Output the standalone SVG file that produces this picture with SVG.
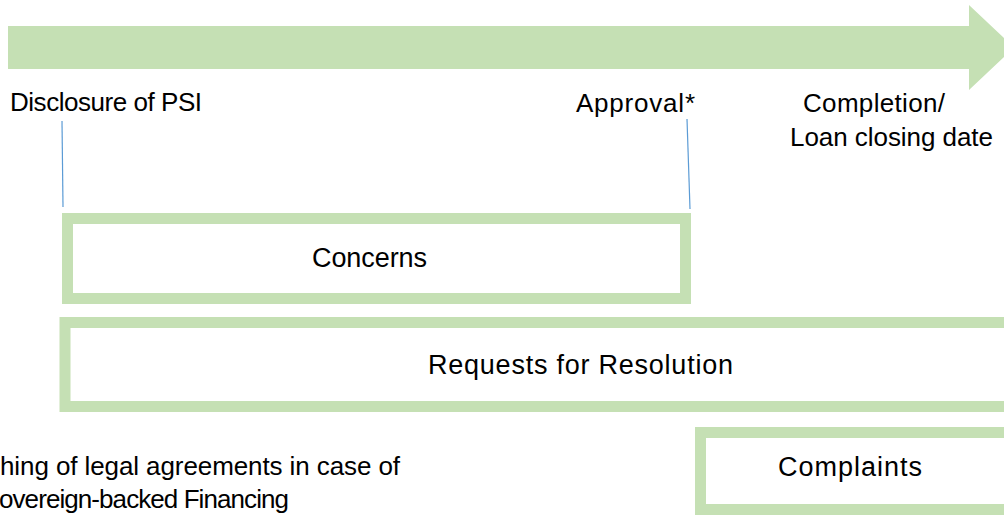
<svg xmlns="http://www.w3.org/2000/svg" width="1004" height="515" viewBox="0 0 1004 515">
  <style>
    .lbl { font-family: "Liberation Sans", Arial, sans-serif; font-size: 26px; fill: #000000; }
    .big { font-size: 27px; }
    .box { fill: #FFFFFF; stroke: #C5E0B4; stroke-width: 11; }
    .tick { stroke: #5B9BD5; stroke-width: 1.2; fill: none; }
  </style>
  <rect width="1004" height="515" fill="#FFFFFF"/>
  <g id="timeline">
    <polygon points="8,26 969,26 969,5 1014,47.5 969,90 969,69 8,69" fill="#C5E0B4"/>
  </g>
  <g id="milestones">
    <text class="lbl" x="10" y="111" textLength="192">Disclosure of PSI</text>
    <text class="lbl" x="576" y="112" textLength="119">Approval*</text>
    <text class="lbl" x="803" y="112" textLength="142">Completion/</text>
    <text class="lbl" x="790" y="146" textLength="203">Loan closing date</text>
  </g>
  <g id="connectors">
    <line class="tick" x1="62" y1="121" x2="63" y2="207"/>
    <line class="tick" x1="687" y1="119" x2="690" y2="209"/>
  </g>
  <g id="concerns">
    <rect class="box" x="67.5" y="218.5" width="618" height="80"/>
    <text class="lbl big" x="312" y="266.5" textLength="115">Concerns</text>
  </g>
  <g id="requests">
    <rect class="box" x="65" y="322.5" width="960" height="84"/>
    <text class="lbl big" x="428" y="374" textLength="305">Requests for Resolution</text>
  </g>
  <g id="complaints">
    <rect class="box" x="700.5" y="432.5" width="320" height="77"/>
    <text class="lbl big" x="778" y="476" textLength="144">Complaints</text>
  </g>
  <g id="note">
    <text class="lbl" x="0" y="475" textLength="400">hing of legal agreements in case of</text>
    <text class="lbl" x="-1" y="508" textLength="290">overeign-backed Financing</text>
  </g>
</svg>
